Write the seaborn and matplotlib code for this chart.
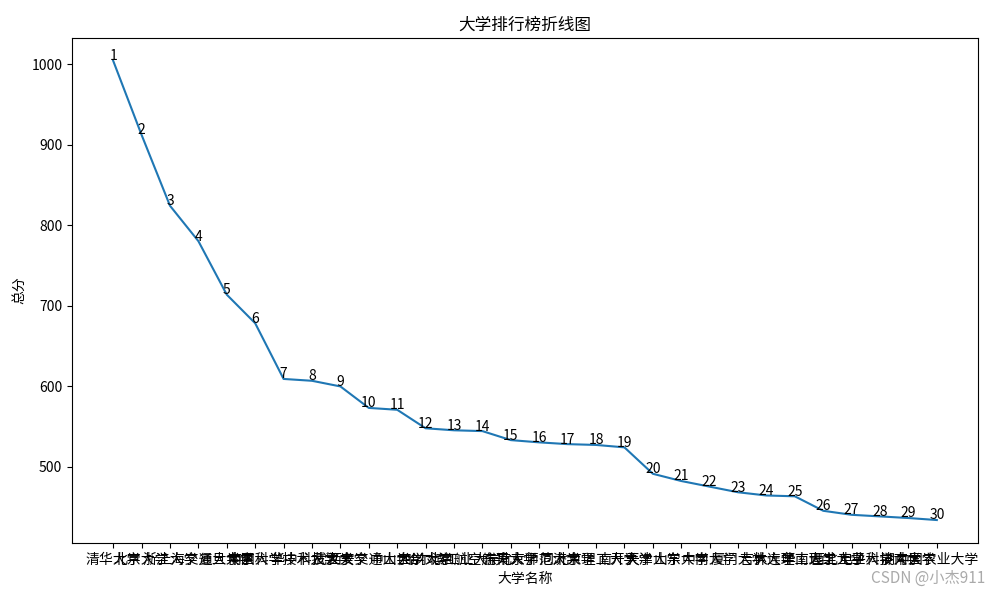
import matplotlib
matplotlib.use("Agg")
import matplotlib.pyplot as plt
import seaborn as sns
import pandas as pd

universities = ["清华大学", "北京大学", "浙江大学", "上海交通大学", "复旦大学", "南京大学",
                "中国科学技术大学", "华中科技大学", "武汉大学", "西安交通大学", "中山大学",
                "四川大学", "哈尔滨工业大学", "北京航空航天大学", "东南大学", "北京师范大学",
                "同济大学", "北京理工大学", "南开大学", "天津大学", "山东大学", "中南大学",
                "厦门大学", "吉林大学", "大连理工大学", "华南理工大学", "西北工业大学",
                "电子科技大学", "湖南大学", "中国农业大学"]
scores = [1004.1, 912.0, 824.0, 780.0, 713.5, 678.0, 608.8, 606.5, 599.5, 572.8, 570.5,
          547.5, 545.0, 544.0, 532.8, 530.0, 527.8, 526.8, 523.8, 491.0, 482.0, 475.0,
          468.0, 464.0, 463.0, 445.0, 440.0, 438.0, 436.0, 433.5]
ranks = list(range(1, 31))

plt.rcParams['font.family'] = ['Noto Sans CJK SC', 'DejaVu Sans']
plt.rcParams['axes.unicode_minus'] = False

df = pd.DataFrame({"idx": list(range(len(universities))), "score": scores})

fig = plt.figure(figsize=(10, 6), dpi=100)
ax = fig.add_axes([0.072, 0.095, 0.906, 0.842])
sns.lineplot(data=df, x="idx", y="score", ax=ax, color="#1f77b4", linewidth=1.5)
ax.set_xticks(df["idx"])
ax.set_xticklabels(universities, fontsize=10)
for i, (s, r) in enumerate(zip(scores, ranks)):
    ax.text(i, s - 3, str(r), ha="center", va="bottom", fontsize=10, color="black")
ax.set_title("大学排行榜折线图", fontsize=12)
ax.set_xlabel("大学名称", fontsize=10)
ax.set_ylabel("总分", fontsize=10)
fig.text(0.985, 0.022, "CSDN @小杰911", ha="right", va="bottom", fontsize=11, color="#aaaaaa")
fig.savefig("out.png", dpi=100)
